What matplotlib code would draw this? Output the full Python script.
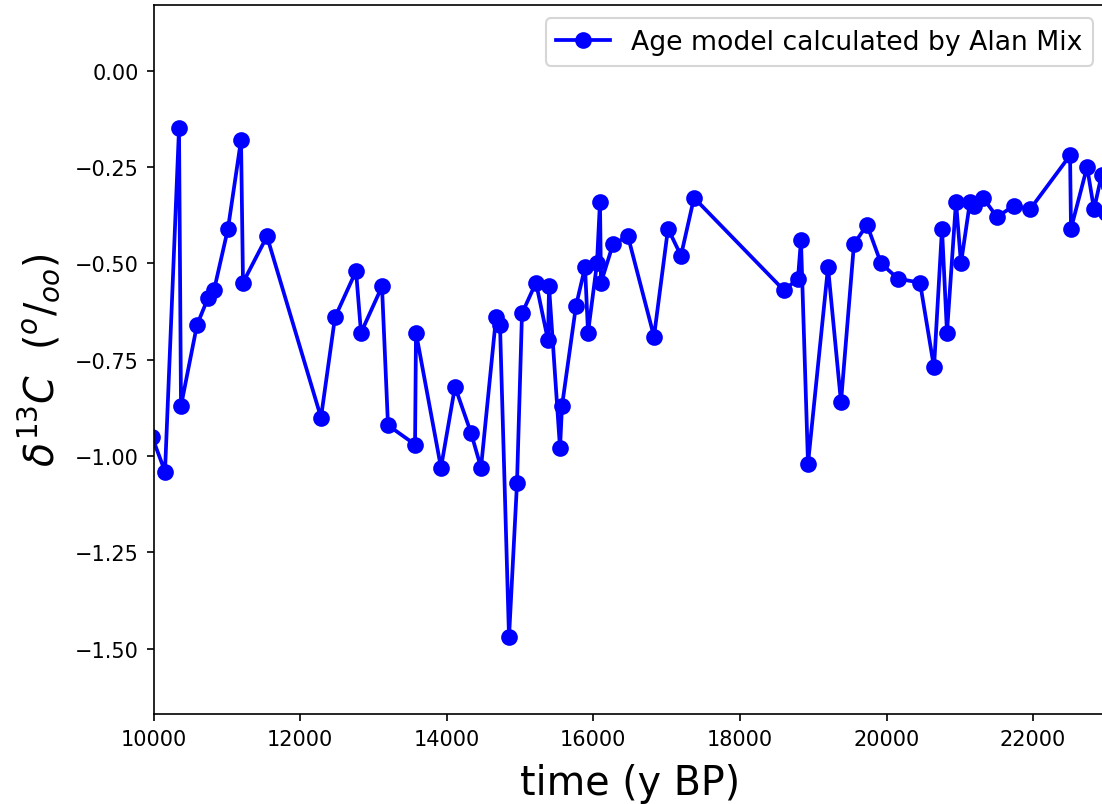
import matplotlib
matplotlib.use("Agg")
import matplotlib.pyplot as plt

age = [9980, 10157, 10348, 10375, 10593, 10743, 10825, 11016, 11194, 11221,
       11548, 12285, 12476, 12763, 12831, 13117, 13199, 13568, 13581, 13922,
       14113, 14332, 14468, 14673, 14727, 14850, 14959, 15027, 15218, 15382,
       15396, 15546, 15573, 15764, 15887, 15928, 16050, 16091, 16105, 16269,
       16473, 16828, 17019, 17196, 17374, 18601, 18792, 18833, 18929, 19202,
       19379, 19556, 19734, 19925, 20157, 20457, 20648, 20757, 20825, 20948,
       21016, 21139, 21194, 21317, 21508, 21740, 21958, 22504, 22517, 22736,
       22831, 22935, 22990]
d13c = [-0.95, -1.04, -0.15, -0.87, -0.66, -0.59, -0.57, -0.41, -0.18, -0.55,
        -0.43, -0.90, -0.64, -0.52, -0.68, -0.56, -0.92, -0.97, -0.68, -1.03,
        -0.82, -0.94, -1.03, -0.64, -0.66, -1.47, -1.07, -0.63, -0.55, -0.70,
        -0.56, -0.98, -0.87, -0.61, -0.51, -0.68, -0.50, -0.34, -0.55, -0.45,
        -0.43, -0.69, -0.41, -0.48, -0.33, -0.57, -0.54, -0.44, -1.02, -0.51,
        -0.86, -0.45, -0.40, -0.50, -0.54, -0.55, -0.77, -0.41, -0.68, -0.34,
        -0.50, -0.34, -0.35, -0.33, -0.38, -0.35, -0.36, -0.22, -0.41, -0.25,
        -0.36, -0.27, -0.37]

fig = plt.figure(figsize=(1102/150, 805/150), dpi=150)
ax = fig.add_axes([0.1393, 0.1118, 0.8647, 0.8807])
ax.plot(age, d13c, '-o', color='blue', lw=1.8, markersize=7,
        label='Age model calculated by Alan Mix')
ax.set_xlim(10000, 23000)
ax.set_ylim(-1.669, 0.170)
ax.set_xticks(range(10000, 22001, 2000))
ax.set_yticks([0.0, -0.25, -0.5, -0.75, -1.0, -1.25, -1.5])
ax.tick_params(labelsize=10)
ax.set_xlabel('time (y BP)', fontsize=19, labelpad=7)
ax.set_ylabel(r'$\delta^{13}C\ \ (^o/_{oo})$', fontsize=19, labelpad=6)
ax.legend(loc='upper right', fontsize=12.8)
fig.savefig('out.png', dpi=150)
